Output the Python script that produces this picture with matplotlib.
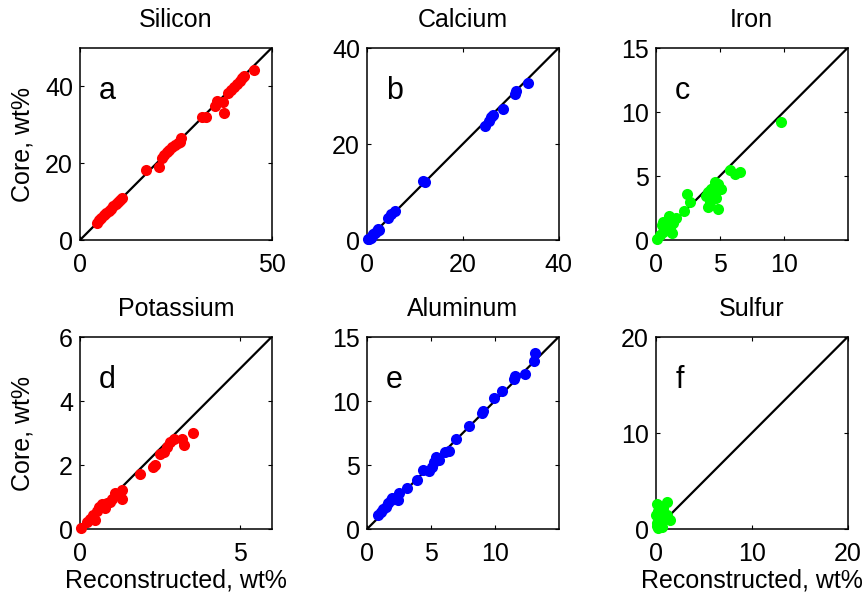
import matplotlib
matplotlib.use("Agg")
import matplotlib.pyplot as plt

plt.rcParams["font.family"] = ["Liberation Sans", "DejaVu Sans"]

# Core vs reconstructed concentrations, wt%
si_rec = [4.4, 5.0, 5.6, 6.3, 6.9, 7.5, 8.1, 8.7, 9.3, 9.9, 10.5, 10.9,
          17.3, 20.5, 21.4, 22.0, 22.6, 23.3, 24.0, 24.9, 25.6, 26.2, 26.4,
          31.9, 32.9, 35.3, 35.8, 37.3, 37.7, 38.6, 39.4, 40.2, 41.0, 41.8,
          42.4, 42.9, 45.5]
si_core = [4.5, 5.1, 5.8, 6.5, 7.1, 7.6, 8.2, 8.8, 9.3, 9.9, 10.5, 10.9,
           18.1, 19.0, 21.4, 22.2, 22.8, 23.5, 24.1, 24.8, 25.2, 25.6, 26.5,
           32.1, 32.1, 34.9, 36.2, 36.0, 33.0, 38.2, 39.0, 39.8, 40.6, 41.4,
           42.1, 42.6, 44.3]

ca_rec = [0.2, 0.5, 0.8, 1.0, 1.3, 1.6, 2.0, 2.3, 2.5, 4.4, 5.1, 5.8,
          11.7, 12.2, 24.7, 25.4, 25.9, 26.3, 28.4, 30.8, 31.2, 33.6]
ca_core = [0.2, 0.3, 0.5, 0.8, 1.2, 1.4, 1.8, 2.3, 2.0, 4.5, 5.4, 6.1,
           12.2, 12.0, 23.7, 24.7, 25.6, 26.1, 27.3, 30.5, 31.0, 32.8]

fe_rec = [9.75, 5.77, 6.16, 6.6, 4.6, 4.86, 5.1, 4.34, 4.08, 3.95, 4.47,
          4.73, 4.2, 4.08, 4.86, 4.78, 2.4, 2.65, 2.18, 1.6, 1.04, 0.57,
          0.44, 0.83, 1.22, 0.57, 0.31, 0.05, 1.35, 0.96, 1.1]
fe_core = [9.23, 5.46, 5.15, 5.33, 4.55, 4.37, 4.0, 4.0, 3.77, 3.43, 3.5,
           3.25, 3.0, 2.6, 2.42, 3.9, 3.56, 3.0, 2.26, 1.7, 1.87, 1.43,
           1.17, 0.91, 0.52, 0.65, 0.39, 0.05, 1.3, 1.43, 0.9]

k_rec = [3.54, 3.27, 3.2, 2.93, 2.83, 2.72, 2.62, 2.49, 2.36, 2.28, 1.88,
         1.31, 1.2, 1.31, 1.1, 0.99, 0.84, 0.68, 0.58, 0.52, 0.42, 0.31,
         0.21, 0.47, 0.02, 0.94, 0.79]
k_core = [3.0, 2.64, 2.82, 2.82, 2.71, 2.56, 2.4, 2.35, 1.99, 1.94, 1.71,
          1.23, 1.1, 0.95, 1.13, 0.95, 0.82, 0.77, 0.69, 0.57, 0.44, 0.30,
          0.23, 0.28, 0.04, 0.85, 0.66]

al_rec = [0.89, 1.07, 1.26, 1.47, 1.68, 1.86, 1.99, 2.46, 2.51, 3.17, 3.95,
          4.35, 4.82, 5.08, 5.26, 5.39, 5.6, 6.13, 6.39, 6.96, 7.96, 9.0,
          9.11, 9.97, 10.6, 11.54, 11.62, 12.41, 13.1, 13.17]
al_core = [1.09, 1.3, 1.53, 1.74, 2.0, 2.26, 2.39, 2.26, 2.78, 3.17, 3.82,
           4.6, 4.55, 4.87, 5.25, 5.64, 5.4, 5.98, 6.06, 7.07, 8.04, 9.03,
           9.23, 10.24, 10.79, 11.75, 11.93, 12.14, 13.13, 13.78]

s_rec = [1.18, 0.14, 0.76, 0.0, 1.11, 1.46, 0.42, 0.07, 0.59, 0.24, 0.1,
         0.3, 0.5, 0.7, 0.3, 0.6, 1.0, 0.2]
s_core = [2.83, 2.56, 2.15, 1.45, 1.45, 0.93, 1.1, 0.59, 0.24, 0.07, 0.3,
          0.5, 0.8, 1.0, 1.3, 1.6, 1.3, 1.9]

titles = ["Silicon", "Calcium", "Iron", "Potassium", "Aluminum", "Sulfur"]
letters = ["a", "b", "c", "d", "e", "f"]
limits = [50, 40, 15, 6, 15, 20]
xticks = [[0, 50], [0, 20, 40], [0, 5, 10], [0, 5], [0, 5, 10], [0, 10, 20]]
yticks = [[0, 20, 40], [0, 20, 40], [0, 5, 10, 15], [0, 2, 4, 6],
          [0, 5, 10, 15], [0, 10, 20]]
colors = ["#ff0000", "#0000ff", "#00ff00", "#ff0000", "#0000ff", "#00ff00"]
xs = [si_rec, ca_rec, fe_rec, k_rec, al_rec, s_rec]
ys = [si_core, ca_core, fe_core, k_core, al_core, s_core]

fig = plt.figure(figsize=(8.66, 6.0), dpi=100)
lefts = [0.0924, 0.4238, 0.7575]
bottoms = [0.600, 0.1183]
w, h = 0.2212, 0.32

for i in range(6):
    r, c = divmod(i, 3)
    ax = fig.add_axes([lefts[c], bottoms[r], w, h])
    lim = limits[i]
    ax.plot([0, lim], [0, lim], color="black", lw=1.6, zorder=2)
    ax.plot(xs[i], ys[i], "o", color=colors[i], ms=8, mec="none",
            clip_on=False, zorder=3)
    ax.set_xlim(0, lim)
    ax.set_ylim(0, lim)
    ax.set_xticks(xticks[i])
    ax.set_yticks(yticks[i])
    ax.tick_params(direction="in", length=3, width=0.8, top=True, right=True,
                   labelsize=18)
    ax.tick_params(axis="x", pad=9)
    ax.tick_params(axis="y", pad=5)
    for sp in ax.spines.values():
        sp.set_linewidth(1.1)
    ax.set_title(titles[i], fontsize=18, pad=15)
    ax.text(0.10, 0.735, letters[i], transform=ax.transAxes, fontsize=22,
            ha="left", va="baseline")
    if c == 0:
        ax.set_ylabel("Core, wt%", fontsize=18)
        ax.yaxis.set_label_coords(-0.24, 0.5)
    if r == 1 and c != 1:
        ax.set_xlabel("Reconstructed, wt%", fontsize=18, labelpad=2)

fig.savefig("out.png", dpi=100)
